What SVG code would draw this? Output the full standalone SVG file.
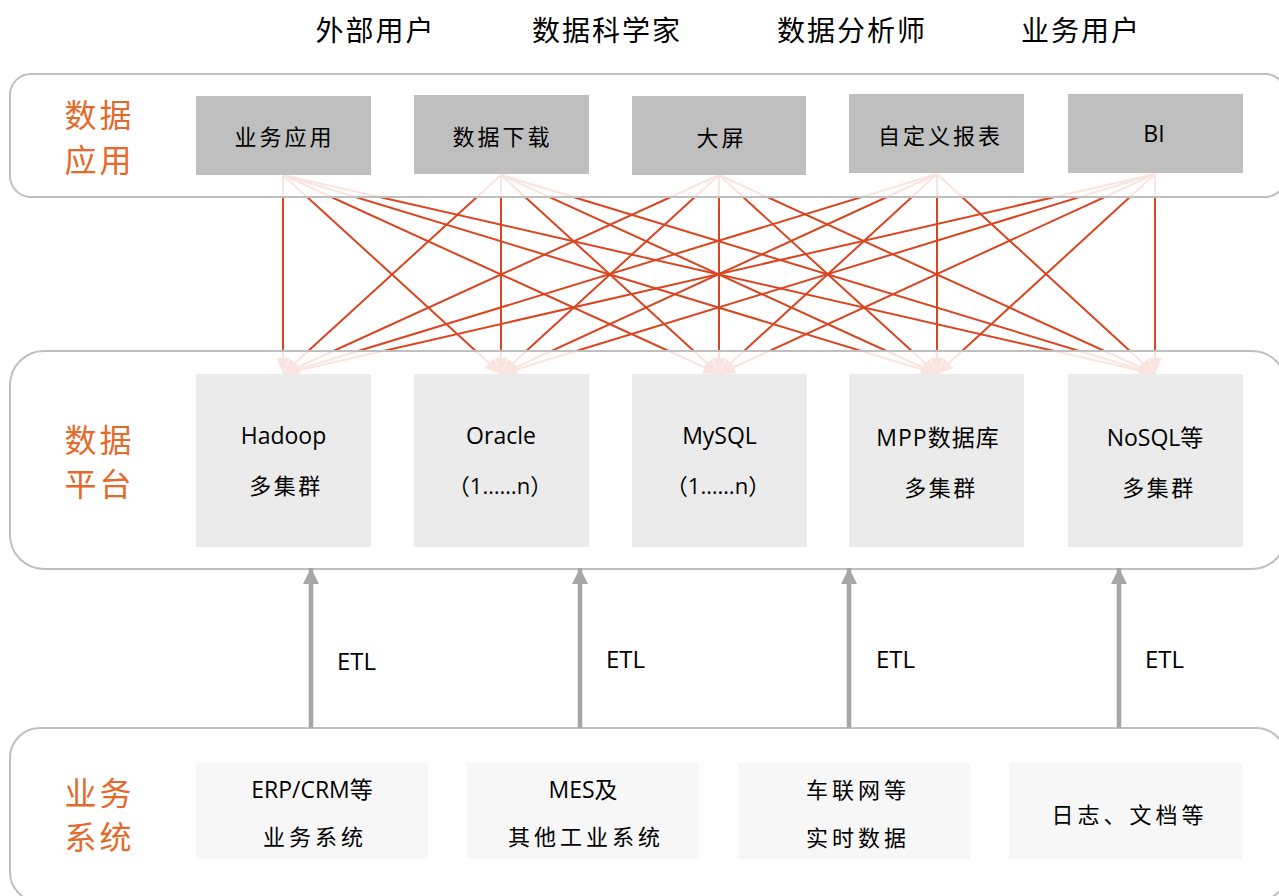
<svg xmlns="http://www.w3.org/2000/svg" width="1279" height="896" viewBox="0 0 1279 896">
<style>
.cn{font-family:"Noto Sans CJK SC",sans-serif;fill:#000}
.lat{font-family:"Open Sans","Noto Sans CJK SC",sans-serif;fill:#000}
.side{font-family:"Noto Sans CJK SC",sans-serif;fill:#e4692a;font-size:32px;letter-spacing:3px}
.usr{font-size:28px;letter-spacing:2px}
.bx{font-size:22px;letter-spacing:3px}
.cont{fill:#ffffff;fill-opacity:0.86;stroke:#bfbfbf;stroke-width:2}
.app{fill:#bfbfbf}
.plat{fill:#ebebeb}
.sys{fill:#f7f7f7}
.link{stroke:#d94520;stroke-width:2;fill:none;marker-end:url(#ah)}
.etl{stroke:#a6a6a6;stroke-width:4.5;fill:none;marker-end:url(#eh)}
</style>
<defs>
<marker id="ah" markerUnits="userSpaceOnUse" markerWidth="16" markerHeight="13" refX="16" refY="6.5" orient="auto"><path d="M0,0 L16,6.5 L0,13 z" fill="#d94520"/></marker>
<marker id="eh" markerUnits="userSpaceOnUse" markerWidth="16" markerHeight="16" refX="16" refY="8" orient="auto"><path d="M0,0 L16,8 L0,16 z" fill="#a6a6a6"/></marker>
</defs>
<rect width="1279" height="896" fill="#ffffff"/>

<g id="users">
<text class="cn usr" x="375.5" y="29" text-anchor="middle" dominant-baseline="central">外部用户</text>
<text class="cn usr" x="607" y="29" text-anchor="middle" dominant-baseline="central">数据科学家</text>
<text class="cn usr" x="852" y="29" text-anchor="middle" dominant-baseline="central">数据分析师</text>
<text class="cn usr" x="1081" y="29" text-anchor="middle" dominant-baseline="central">业务用户</text>
</g>

<g id="connectors">
<line class="link" x1="283" y1="175" x2="283" y2="374"/>
<line class="link" x1="283" y1="175" x2="501" y2="374"/>
<line class="link" x1="283" y1="175" x2="719" y2="374"/>
<line class="link" x1="283" y1="175" x2="937" y2="374"/>
<line class="link" x1="283" y1="175" x2="1155" y2="374"/>
<line class="link" x1="501" y1="175" x2="283" y2="374"/>
<line class="link" x1="501" y1="175" x2="501" y2="374"/>
<line class="link" x1="501" y1="175" x2="719" y2="374"/>
<line class="link" x1="501" y1="175" x2="937" y2="374"/>
<line class="link" x1="501" y1="175" x2="1155" y2="374"/>
<line class="link" x1="719" y1="175" x2="283" y2="374"/>
<line class="link" x1="719" y1="175" x2="501" y2="374"/>
<line class="link" x1="719" y1="175" x2="719" y2="374"/>
<line class="link" x1="719" y1="175" x2="937" y2="374"/>
<line class="link" x1="719" y1="175" x2="1155" y2="374"/>
<line class="link" x1="937" y1="174" x2="283" y2="374"/>
<line class="link" x1="937" y1="174" x2="501" y2="374"/>
<line class="link" x1="937" y1="174" x2="719" y2="374"/>
<line class="link" x1="937" y1="174" x2="937" y2="374"/>
<line class="link" x1="937" y1="174" x2="1155" y2="374"/>
<line class="link" x1="1155" y1="174" x2="283" y2="374"/>
<line class="link" x1="1155" y1="174" x2="501" y2="374"/>
<line class="link" x1="1155" y1="174" x2="719" y2="374"/>
<line class="link" x1="1155" y1="174" x2="937" y2="374"/>
<line class="link" x1="1155" y1="174" x2="1155" y2="374"/>
</g>

<g id="layer-app">
<rect class="cont" x="10" y="74" width="1276" height="123" rx="21" ry="21"/>
<text class="side" x="99.5" y="113" text-anchor="middle" dominant-baseline="central">数据</text>
<text class="side" x="99.5" y="158" text-anchor="middle" dominant-baseline="central">应用</text>
</g>
<g id="layer-platform">
<rect class="cont" x="10" y="351" width="1276" height="218" rx="34" ry="34"/>
<text class="side" x="99.5" y="438" text-anchor="middle" dominant-baseline="central">数据</text>
<text class="side" x="99.5" y="482" text-anchor="middle" dominant-baseline="central">平台</text>
</g>
<g id="layer-system">
<rect class="cont" x="10" y="728" width="1276" height="174" rx="30" ry="30"/>
<text class="side" x="99.5" y="791" text-anchor="middle" dominant-baseline="central">业务</text>
<text class="side" x="99.5" y="835" text-anchor="middle" dominant-baseline="central">系统</text>
</g>

<g id="etl-arrows">
<line class="etl" x1="311" y1="728" x2="311" y2="568"/>
<line class="etl" x1="580" y1="728" x2="580" y2="568"/>
<line class="etl" x1="849" y1="728" x2="849" y2="568"/>
<line class="etl" x1="1119" y1="728" x2="1119" y2="568"/>
<text class="lat" x="337" y="670" font-size="24">ETL</text>
<text class="lat" x="606" y="668" font-size="24">ETL</text>
<text class="lat" x="876" y="668" font-size="24">ETL</text>
<text class="lat" x="1145" y="668" font-size="24">ETL</text>
</g>

<g id="app-1"><rect class="app" x="196" y="96" width="175" height="79"/><text class="cn bx" x="284.5" y="135" text-anchor="middle" dominant-baseline="central">业务应用</text></g>
<g id="app-2"><rect class="app" x="414" y="95" width="175" height="79"/><text class="cn bx" x="502.5" y="135" text-anchor="middle" dominant-baseline="central">数据下载</text></g>
<g id="app-3"><rect class="app" x="632" y="96" width="174" height="79"/><text class="cn bx" x="721.5" y="136" text-anchor="middle" dominant-baseline="central">大屏</text></g>
<g id="app-4"><rect class="app" x="849" y="94" width="175" height="79"/><text class="cn bx" x="940.5" y="134" text-anchor="middle" dominant-baseline="central">自定义报表</text></g>
<g id="app-5"><rect class="app" x="1068" y="94" width="175" height="79"/><text class="lat" x="1154" y="141.5" font-size="23" text-anchor="middle">BI</text></g>

<g id="plat-1"><rect class="plat" x="196" y="374" width="175" height="173"/><text class="lat" x="283.5" y="444" font-size="23" text-anchor="middle">Hadoop</text><text class="cn" x="286" y="484" font-size="22" letter-spacing="2.5" text-anchor="middle" dominant-baseline="central">多集群</text></g>
<g id="plat-2"><rect class="plat" x="414" y="374" width="175" height="173"/><text class="lat" x="501" y="444" font-size="23" text-anchor="middle">Oracle</text><text class="lat" x="500" y="494" font-size="22" text-anchor="middle">（1……n）</text></g>
<g id="plat-3"><rect class="plat" x="632" y="374" width="175" height="173"/><text class="lat" x="719.5" y="444" font-size="23" text-anchor="middle">MySQL</text><text class="lat" x="718" y="494" font-size="22" text-anchor="middle">（1……n）</text></g>
<g id="plat-4"><rect class="plat" x="849" y="374" width="175" height="173"/><text class="lat" x="938" y="446" font-size="23" letter-spacing="1" text-anchor="middle">MPP数据库</text><text class="cn" x="941" y="486" font-size="22" letter-spacing="2.5" text-anchor="middle" dominant-baseline="central">多集群</text></g>
<g id="plat-5"><rect class="plat" x="1068" y="374" width="175" height="173"/><text class="lat" x="1155" y="446" font-size="23" text-anchor="middle">NoSQL等</text><text class="cn" x="1159" y="486" font-size="22" letter-spacing="2.5" text-anchor="middle" dominant-baseline="central">多集群</text></g>

<g id="sys-1"><rect class="sys" x="196" y="763" width="232" height="96"/><text class="lat" x="312" y="798" font-size="23" text-anchor="middle">ERP/CRM等</text><text class="cn" x="315" y="835" font-size="22" letter-spacing="4" text-anchor="middle" dominant-baseline="central">业务系统</text></g>
<g id="sys-2"><rect class="sys" x="467" y="763" width="232" height="96"/><text class="lat" x="583" y="798" font-size="23" text-anchor="middle">MES及</text><text class="cn" x="586" y="835" font-size="22" letter-spacing="4" text-anchor="middle" dominant-baseline="central">其他工业系统</text></g>
<g id="sys-3"><rect class="sys" x="738" y="763" width="232" height="96"/><text class="cn" x="858" y="788" font-size="22" letter-spacing="4" text-anchor="middle" dominant-baseline="central">车联网等</text><text class="cn" x="858" y="836" font-size="22" letter-spacing="4" text-anchor="middle" dominant-baseline="central">实时数据</text></g>
<g id="sys-4"><rect class="sys" x="1009" y="763" width="233" height="96"/><text class="cn" x="1129.5" y="813" font-size="22" letter-spacing="4" text-anchor="middle" dominant-baseline="central">日志、文档等</text></g>
</svg>
